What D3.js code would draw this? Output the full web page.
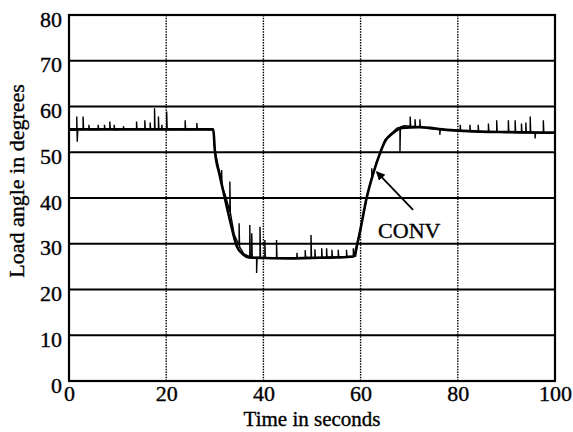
<!DOCTYPE html>
<html>
<head>
<meta charset="utf-8">
<script src="https://cdn.jsdelivr.net/npm/d3@7"></script>
<style>
  body{margin:0;background:#fff;}
  svg text{font-family:"Liberation Serif","DejaVu Serif",serif;fill:#000;stroke:#000;stroke-width:0.35px;}
</style>
</head>
<body>
<div id="chart"></div>
<script>
// ticks
const xTicks = [0, 20, 40, 60, 80, 100];
const yTicks = [0, 10, 20, 30, 40, 50, 60, 70, 80];

// CONV (smooth) curve: time, load angle
const convT = [0, 29.7, 30.0, 31.0, 31.7, 33.1, 34.5, 35.9, 37, 40, 45, 50, 55, 58.5, 59.5, 61.3, 62.5, 63.8, 65.0, 66.7, 68.5, 72, 77.7, 84.6, 90, 99.3, 100];
const convV = [55, 55, 50.5, 45, 41.7, 35.2, 29.5, 27.6, 27.0, 26.9, 26.8, 26.9, 27.0, 27.2, 30.8, 40.3, 45.0, 49.2, 52.3, 54.2, 55.3, 55.5, 54.9, 54.5, 54.4, 54.3, 54.3];

// measured (noisy) trace: [time, angle]
const measured = [
  [0,54.8],[1.6,54.8],[1.6,57.8],[1.7,52.3],[1.8,54.9],[2.9,55],[2.9,57.8],[3.0,55],
  [4.1,55],[4.1,56],[4.2,54.9],[6.0,55],[6.0,56],[6.1,55],[7.3,55.1],[7.3,56],[7.4,55],
  [8.4,55],[8.4,56.7],[8.5,55.1],[9.3,55],[9.3,56],[9.4,54.9],[11.2,55],[11.2,55.7],[11.3,55],
  [13.9,55],[13.9,56.7],[14.0,55],[15.6,55.1],[15.6,57],[15.7,55],[16.7,55],[16.7,56.5],[16.8,55],
  [17.6,55.1],[17.6,59.6],[17.7,55],[18.4,55],[18.4,57.8],[18.5,55],[19.1,55.1],[19.1,56],[19.2,55],
  [20.1,55],[20.1,58.9],[20.2,54.9],[23.9,55],[23.9,57],[24.0,54.9],[26.3,55],[26.3,56.4],[26.4,55],
  [29.7,54.9],[30.0,50.5],[31.0,45.5],[31.4,43.0],[31.4,46.1],[31.5,42.5],[32.2,40.5],[33.1,37],
  [33.1,43.6],[33.2,36.8],[34.0,32],[35.0,29.6],[35.0,34.5],[35.1,29.3],[36.0,27.8],[37.2,27.2],
  [37.2,34.1],[37.3,27.1],[37.6,27.1],[37.6,32.3],[37.7,27.0],[38.6,27.0],[38.6,23.6],[38.7,27.0],
  [39.3,27.0],[39.3,33.7],[39.4,27],[40.3,26.9],[40.3,30.8],[40.4,26.9],[42.7,26.8],[42.7,30.8],
  [42.8,26.8],[46.9,26.9],[46.9,28],[47,26.9],[48.6,27],[48.6,28.6],[48.7,27],[49.8,27],[49.8,31.9],
  [49.9,27],[50.6,27],[50.6,28.8],[50.7,27],[52.0,27],[52.0,29],[52.1,27],[53.0,27.1],[53.0,29],
  [53.1,27.1],[54.1,27.1],[54.1,28.7],[54.2,27.1],[55.4,27.1],[55.4,28.7],[55.5,27.1],[57.1,27.2],
  [57.1,28.7],[57.2,27.2],[58.5,27.2],[58.5,29],[58.6,27.2],[59.0,27.3],[59.5,31],[60.5,36],
  [61.3,40.3],[62.3,44.5],[62.3,46.5],[62.4,44.6],[63.3,48],[64.0,49.8],[65.0,52.7],[66,53.8],
  [66.7,54.5],[67.5,55.3],[68.1,55.5],[68.1,50.1],[68.2,55.5],[69,55.8],[70.2,55.7],[70.2,57.8],
  [70.3,55.7],[71.2,55.6],[71.2,57.2],[71.3,55.6],[72.2,55.5],[72.2,57.2],[72.3,55.5],[74,55.2],
  [76.3,55],[76.3,53.8],[76.4,55],[78,54.8],[80.5,54.7],[80.5,56],[80.6,54.6],[82.5,54.6],[82.5,56],
  [82.6,54.5],[84.2,54.5],[84.2,56],[84.3,54.5],[86.3,54.5],[86.3,56.3],[86.4,54.4],[88.0,54.4],
  [88.0,57],[88.1,54.4],[90.4,54.4],[90.4,57],[90.5,54.4],[91.8,54.3],[91.8,57],[91.9,54.3],
  [93.1,54.3],[93.1,56.3],[93.2,54.3],[94.0,54.3],[94.0,56.5],[94.1,54.3],[94.9,54.3],[94.9,57.8],
  [95.0,54.3],[95.9,54.3],[95.9,53],[96.0,54.3],[97.6,54.3],[97.6,57],[97.7,54.3],[100,54.2]
];

// annotation (data coords)
const convLabel = "CONV";
const arrowTip = [63.3, 45.7];
const arrowTail = [70.8, 37.4];
const labelAt = [63.6, 31.3];

const W = 573, H = 432;
const margin = {left: 69, right: 18, top: 15, bottom: 51};

var svg = d3.select("#chart").append("svg")
  .attr("width", W).attr("height", H);

let x = d3.scaleLinear().domain([0, 100]).range([margin.left, W - margin.right]);
let y = d3.scaleLinear().domain([0, 80]).range([H - margin.bottom, margin.top]);

//横向网格 (solid)
svg.append("g").selectAll("line")
  .data(yTicks).enter().append("line")
  .attr("x1", x(0)).attr("x2", x(100))
  .attr("y1", d => y(d)).attr("y2", d => y(d))
  .attr("stroke", "#000").attr("stroke-width", 1.9);

//纵向网格 (dotted)
svg.append("g").selectAll("line")
  .data(xTicks.slice(1, -1)).enter().append("line")
  .attr("x1", d => x(d)).attr("x2", d => x(d))
  .attr("y1", y(0)).attr("y2", y(80))
  .attr("stroke", "#000").attr("stroke-width", 1.4)
  .attr("stroke-dasharray", "1.5,1.2");

//边框
svg.append("rect")
  .attr("x", x(0)).attr("y", y(80))
  .attr("width", x(100) - x(0)).attr("height", y(0) - y(80))
  .attr("fill", "none").attr("stroke", "#000").attr("stroke-width", 2.2);

//axes labels
let xAxis = d3.axisBottom(x).tickValues(xTicks).tickSize(0).tickPadding(4);
svg.append("g").attr("transform", `translate(0,${y(0)})`).call(xAxis)
  .call(g => g.select(".domain").remove())
  .selectAll("text").style("font-size", "22px").attr("font-family", null);

let yAxis = d3.axisLeft(y).tickValues(yTicks).tickSize(0).tickPadding(7);
svg.append("g").attr("transform", `translate(${x(0)},0)`).call(yAxis)
  .call(g => g.select(".domain").remove())
  .selectAll("text").style("font-size", "22px").attr("font-family", null).attr("dy", "0.5em");

svg.append("text")
  .attr("x", (x(0) + x(100)) / 2).attr("y", 426)
  .attr("text-anchor", "middle").style("font-size", "21px")
  .text("Time in seconds");

svg.append("text")
  .attr("transform", `translate(24,${181}) rotate(-90)`)
  .attr("text-anchor", "middle").style("font-size", "22px")
  .text("Load angle in degrees");

//曲线
let line = d3.line().x(d => x(d[0])).y(d => y(d[1]));

svg.append("path")
  .datum(measured)
  .attr("d", line)
  .attr("fill", "none").attr("stroke", "#000").attr("stroke-width", 1.4);

svg.append("path")
  .datum(convT.map((t, i) => [t, convV[i]]))
  .attr("d", d3.line().x(d => x(d[0])).y(d => y(d[1])).curve(d3.curveMonotoneX))
  .attr("fill", "none").attr("stroke", "#000").attr("stroke-width", 2.6);

//箭头
svg.append("defs").append("marker")
  .attr("id", "arr").attr("viewBox", "0 0 10 10")
  .attr("refX", 9).attr("refY", 5)
  .attr("markerWidth", 9).attr("markerHeight", 9)
  .attr("markerUnits", "userSpaceOnUse")
  .attr("orient", "auto")
  .append("path").attr("d", "M0,0 L10,5 L0,10 z").attr("fill", "#000");

svg.append("line")
  .attr("x1", x(arrowTail[0])).attr("y1", y(arrowTail[1]))
  .attr("x2", x(arrowTip[0])).attr("y2", y(arrowTip[1]))
  .attr("stroke", "#000").attr("stroke-width", 1.8)
  .attr("marker-end", "url(#arr)");

svg.append("text")
  .attr("x", x(labelAt[0])).attr("y", y(labelAt[1]))
  .style("font-size", "22px")
  .text(convLabel);
</script>
</body>
</html>
